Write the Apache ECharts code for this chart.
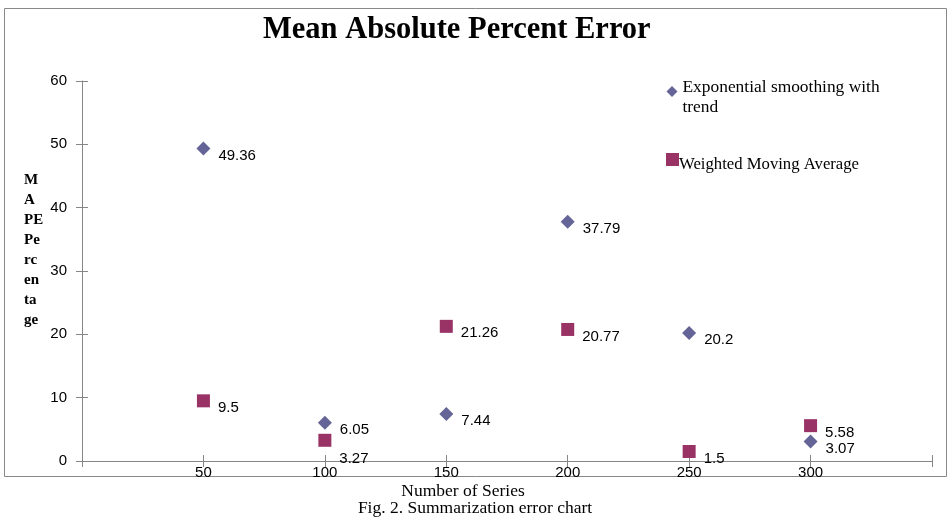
<!DOCTYPE html>
<html>
<head>
<meta charset="utf-8">
<script src="https://cdn.jsdelivr.net/npm/echarts@6/dist/echarts.min.js"></script>
<style>html,body{margin:0;padding:0;background:#fff;}#c{width:952px;height:524px;}</style>
</head>
<body>
<div id="c"></div>
<script>
var seriesX = [50, 100, 150, 200, 250, 300];
var esValues = [49.36, 6.05, 7.44, 37.79, 20.2, 3.07];
var wmaValues = [9.5, 3.27, 21.26, 20.77, 1.5, 5.58];
var xTickLabels = ['50', '100', '150', '200', '250', '300'];
var esName = 'Exponential smoothing with trend';
var wmaName = 'Weighted Moving Average';

var axisColor = '#868686';
var sans = 'Liberation Sans';
var serif = 'Liberation Serif';

function pts(vals, special) {
  return vals.map(function (v, i) {
    var item = { value: [seriesX[i], v] };
    if (special && special[i]) item.label = special[i];
    return item;
  });
}

var chart = echarts.init(document.getElementById('c'), null, { renderer: 'canvas' });
var labelBase = { show: true, position: 'right', distance: 8, offset: [0, 7], color: '#000', fontFamily: sans, fontSize: 15 };

var option = {
  backgroundColor: '#fff',
  animation: false,
  title: {
    text: 'Mean Absolute Percent Error',
    left: 258, top: 10,
    textStyle: { fontFamily: serif, fontWeight: 'bold', fontSize: 30.5, color: '#000' }
  },
  legend: [
    {
      data: [{ name: esName, icon: 'diamond' }],
      left: 666.5, top: 71, padding: 0, itemWidth: 11, itemHeight: 11,
      formatter: function () { return '{s| }\n{a|Exponential smoothing with}\n{a|trend}'; },
      textStyle: {
        color: '#000',
        rich: {
          s: { lineHeight: 12, fontSize: 1 },
          a: { lineHeight: 20, fontSize: 17.4, fontFamily: serif, color: '#000' }
        }
      }
    },
    {
      data: [{ name: wmaName, icon: 'rect' }],
      left: 666, top: 149, padding: 0, itemWidth: 13, itemHeight: 13,
      formatter: function (n) { return '{s| }\n{a|' + n + '}'; },
      textStyle: {
        color: '#000',
        rich: {
          s: { lineHeight: 11, fontSize: 1 },
          a: { lineHeight: 20, fontSize: 16.7, fontFamily: serif, color: '#000', padding: [0, 0, 0, -5] }
        }
      }
    }
  ],
  grid: { left: 82, right: 20, top: 81, bottom: 63, containLabel: false },
  xAxis: [
    {
      type: 'value', min: 0, max: 350, interval: 50,
      axisLine: { show: true, onZero: false, lineStyle: { color: axisColor, width: 1 } },
      axisTick: { show: false },
      splitLine: { show: false },
      axisLabel: {
        margin: 4, color: '#000', fontFamily: sans, fontSize: 15,
        formatter: function (v) { var i = seriesX.indexOf(v); return i >= 0 ? xTickLabels[i] : ''; }
      }
    },
    {
      type: 'value', min: 0, max: 350, interval: 50, position: 'bottom', offset: -6,
      axisLine: { show: false, onZero: false },
      axisTick: { show: true, inside: false, length: 12, lineStyle: { color: axisColor } },
      splitLine: { show: false }, axisLabel: { show: false }
    }
  ],
  yAxis: [
    {
      type: 'value', min: 0, max: 60, interval: 10,
      axisLine: { show: true, onZero: false, lineStyle: { color: axisColor, width: 1 } },
      axisTick: { show: false },
      splitLine: { show: false },
      axisLabel: { margin: 15, color: '#000', fontFamily: sans, fontSize: 15 }
    },
    {
      type: 'value', min: 0, max: 60, interval: 10, position: 'left', offset: -6,
      axisLine: { show: false, onZero: false },
      axisTick: { show: true, inside: false, length: 12, lineStyle: { color: axisColor } },
      splitLine: { show: false }, axisLabel: { show: false }
    }
  ],
  graphic: [
    {
      type: 'rect', left: 2, top: 6, z: -1, silent: true,
      shape: { width: 942, height: 468 },
      style: { fill: 'none', stroke: '#888', lineWidth: 1 }
    },
    {
      type: 'text', left: 24, top: 170,
      style: { text: 'M\nA\nPE\nPe\nrc\nen\nta\nge', font: 'bold 15px "Liberation Serif"', fill: '#000', lineHeight: 20 }
    },
    {
      type: 'text', x: 463, y: 491,
      style: { text: 'Number of Series', font: '17.5px "Liberation Serif"', fill: '#000', align: 'center', verticalAlign: 'middle' }
    },
    {
      type: 'text', x: 475, y: 508,
      style: { text: 'Fig. 2. Summarization error chart', font: '17.5px "Liberation Serif"', fill: '#000', align: 'center', verticalAlign: 'middle' }
    }
  ],
  series: [
    {
      name: esName, type: 'scatter', symbol: 'diamond', symbolSize: 14,
      itemStyle: { color: '#646497', opacity: 1 },
      label: labelBase,
      data: pts(esValues)
    },
    {
      name: wmaName, type: 'scatter', symbol: 'rect', symbolSize: 13,
      itemStyle: { color: '#993366', opacity: 1 },
      label: labelBase,
      data: pts(wmaValues, { 1: { offset: [0, 19] } })
    }
  ]
};
chart.setOption(option);
</script>
</body>
</html>
